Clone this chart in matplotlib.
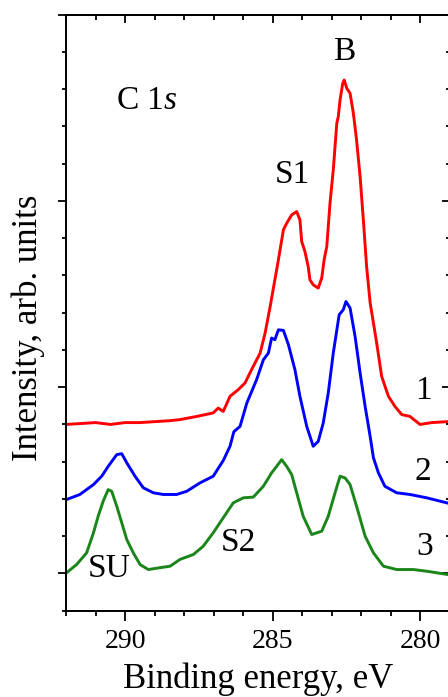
import matplotlib
matplotlib.use('Agg')
import matplotlib.pyplot as plt
from matplotlib.ticker import MultipleLocator, NullFormatter

plt.rcParams['font.family'] = ['Liberation Serif', 'DejaVu Serif']
plt.rcParams['mathtext.fontset'] = 'custom'
plt.rcParams['mathtext.rm'] = 'Liberation Serif'
plt.rcParams['mathtext.it'] = 'Liberation Serif:italic'

# ---- data (binding energy in eV, intensity in arb. units, offset spectra) ----
red_x = [292.0, 291.5, 291.0, 290.5, 290.0, 289.5, 289.0, 288.5, 288.14, 287.57,
         287.01, 286.84, 286.67, 286.44, 286.16, 285.93, 285.71, 285.42, 285.25,
         285.08, 284.92, 284.80, 284.63, 284.52, 284.35, 284.18, 284.07, 284.01,
         283.90, 283.79, 283.73, 283.62, 283.45, 283.33, 283.25, 283.16, 283.05,
         282.94, 282.82, 282.77, 282.71, 282.62, 282.57, 282.48, 282.37, 282.26,
         282.15, 282.03, 281.92, 281.81, 281.69, 281.47, 281.30, 281.07, 280.85,
         280.62, 280.34, 280.0, 279.6, 279.08]
red_y = [0.800, 0.805, 0.810, 0.800, 0.810, 0.810, 0.815, 0.820, 0.826, 0.843,
         0.862, 0.888, 0.870, 0.951, 0.987, 1.023, 1.094, 1.183, 1.291,
         1.433, 1.576, 1.684, 1.845, 1.880, 1.925, 1.943, 1.898, 1.782,
         1.728, 1.648, 1.576, 1.550, 1.532, 1.587, 1.684, 1.755, 1.989,
         2.166, 2.418, 2.452, 2.542, 2.631, 2.649, 2.604, 2.578, 2.472,
         2.327, 2.130, 1.898, 1.648, 1.453, 1.239, 1.058, 0.951, 0.897,
         0.853, 0.843, 0.800, 0.810, 0.815]

blue_x = [291.98, 291.53, 291.07, 290.79, 290.57, 290.28, 290.11, 289.94, 289.66,
          289.38, 289.04, 288.70, 288.25, 287.91, 287.46, 287.01, 286.67, 286.44,
          286.31, 286.10, 285.87, 285.54, 285.31, 285.14, 285.03, 284.92, 284.80,
          284.63, 284.46, 284.24, 284.07, 283.84, 283.62, 283.45, 283.28, 283.11,
          282.94, 282.74, 282.60, 282.51, 282.37, 282.20, 282.03, 281.86, 281.69,
          281.58, 281.41, 281.19, 280.79, 280.34, 279.77, 279.09]
blue_y = [0.397, 0.424, 0.477, 0.522, 0.575, 0.638, 0.643, 0.594, 0.522,
          0.460, 0.433, 0.424, 0.424, 0.441, 0.486, 0.522, 0.606, 0.683,
          0.761, 0.790, 0.915, 1.040, 1.147, 1.183, 1.264, 1.255, 1.308,
          1.305, 1.228, 1.094, 0.951, 0.790, 0.683, 0.709, 0.808, 0.969,
          1.183, 1.389, 1.416, 1.460, 1.425, 1.272, 1.076, 0.897, 0.736,
          0.622, 0.540, 0.468, 0.433, 0.424, 0.406, 0.379]

green_x = [291.98, 291.64, 291.30, 291.07, 290.91, 290.74, 290.57, 290.45, 290.28,
           290.11, 289.94, 289.72, 289.49, 289.21, 288.81, 288.47, 288.14, 287.68,
           287.35, 287.01, 286.67, 286.33, 285.99, 285.65, 285.31, 285.03, 284.86,
           284.69, 284.52, 284.35, 284.18, 283.96, 283.67, 283.33, 283.11, 282.88,
           282.71, 282.54, 282.37, 282.15, 281.86, 281.58, 281.24, 280.79, 280.23,
           279.77, 279.09]
green_y = [0.004, 0.048, 0.111, 0.218, 0.307, 0.388, 0.450, 0.441, 0.361,
           0.272, 0.182, 0.111, 0.048, 0.021, 0.031, 0.039, 0.075, 0.102,
           0.146, 0.218, 0.299, 0.379, 0.406, 0.410, 0.468, 0.540, 0.575,
           0.611, 0.575, 0.531, 0.433, 0.307, 0.209, 0.227, 0.307, 0.433,
           0.522, 0.513, 0.477, 0.361, 0.200, 0.111, 0.039, 0.021, 0.021,
           0.012, -0.005]

x_ticks = [290, 285, 280]
x_tick_labels = ['290', '285', '280']

# ---- figure ----
fig = plt.figure(figsize=(4.48, 6.97), dpi=100)
ax = fig.add_axes([66/448, 1 - 610.7/697, (449.5 - 66)/448, (610.7 - 14.7)/697])

ax.plot(red_x, red_y, color='#ff0000', lw=2.1)
ax.plot(blue_x, blue_y, color='#0000ff', lw=2.1)
ax.plot(green_x, green_y, color='#1a861a', lw=2.1)

ax.set_xlim(292, 279)
ax.set_ylim(-0.2, 3.0)

ax.set_xticks(x_ticks)
ax.set_xticklabels(x_tick_labels)
ax.xaxis.set_minor_locator(MultipleLocator(1))
ax.yaxis.set_major_locator(MultipleLocator(1))
ax.yaxis.set_minor_locator(MultipleLocator(0.2))
ax.yaxis.set_major_formatter(NullFormatter())

for s in ax.spines.values():
    s.set_linewidth(1.4)

ax.tick_params(axis='both', which='both', width=1.3, labelsize=20)
ax.tick_params(axis='x', which='major', direction='out', length=7, top=False, pad=6)
ax.tick_params(axis='x', which='minor', direction='out', length=3.5, top=False)
ax.tick_params(axis='y', which='major', direction='out', length=5.5, right=False)
ax.tick_params(axis='y', which='minor', direction='out', length=3, right=False)

# top and right mirrored ticks pointing inward
ax_top = ax.secondary_xaxis('top')
ax_top.set_xticks(x_ticks)
ax_top.set_xticklabels([])
ax_top.xaxis.set_minor_locator(MultipleLocator(1))
ax_top.tick_params(which='major', direction='in', length=6, width=1.3)
ax_top.tick_params(which='minor', direction='in', length=3.5, width=1.3)
ax_top.spines['top'].set_linewidth(1.4)

ax_r = ax.secondary_yaxis('right')
ax_r.yaxis.set_major_locator(MultipleLocator(1))
ax_r.yaxis.set_minor_locator(MultipleLocator(0.2))
ax_r.yaxis.set_major_formatter(NullFormatter())
ax_r.tick_params(which='major', direction='in', length=5.5, width=1.3)
ax_r.tick_params(which='minor', direction='in', length=3, width=1.3)

ax.set_xlabel('Binding energy, eV', fontsize=25, labelpad=6)
ax.set_ylabel('Intensity, arb. units', fontsize=25)
ax.yaxis.set_label_coords(-0.056, 0.475)

fs = 24
ax.text(289.25, 2.54, r'C 1$s$', fontsize=fs, ha='center', va='center')
ax.text(282.58, 2.80, 'B', fontsize=fs, ha='center', va='center')
ax.text(284.34, 2.14, 'S1', fontsize=fs, ha='center', va='center')
ax.text(279.90, 0.98, '1', fontsize=fs, ha='center', va='center')
ax.text(279.90, 0.547, '2', fontsize=fs, ha='center', va='center')
ax.text(279.86, 0.145, '3', fontsize=fs, ha='center', va='center')
ax.text(290.54, 0.027, 'SU', fontsize=fs, ha='center', va='center')
ax.text(286.17, 0.166, 'S2', fontsize=fs, ha='center', va='center')

fig.savefig('out.png', dpi=100)
